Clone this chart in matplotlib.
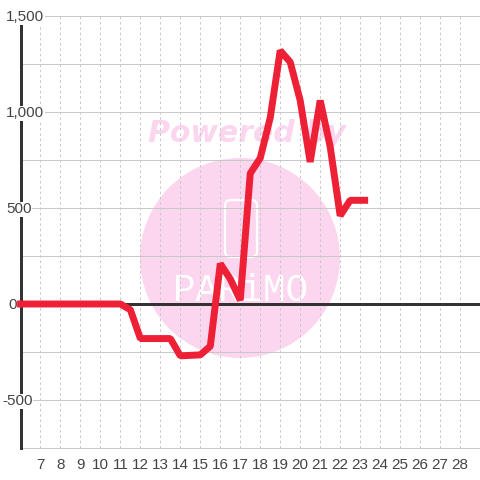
import matplotlib
matplotlib.use("Agg")
import matplotlib.pyplot as plt
from matplotlib.patches import Circle, FancyBboxPatch
from matplotlib.transforms import blended_transform_factory, ScaledTranslation

#valores
hours = [5.83, 7, 8, 9, 10, 11, 11.5, 12, 13.5, 14, 15, 15.5, 16, 16.5, 17, 17.5, 18, 18.5, 19, 19.5, 20, 20.5, 21, 21.5, 22, 22.5, 23.4]
values = [0, 0, 0, 0, 0, 0, -30, -180, -180, -270, -265, -220, 210, 130, 20, 680, 760, 970, 1320, 1260, 1060, 740, 1060, 820, 460, 540, 540]
x_ticks = list(range(7, 29))
y_major = [-500, 0, 500, 1000, 1500]
y_minor = [-250, 250, 750, 1250]
y_labels = ["-500", "0", "500", "1,000", "1,500"]
y_label_left = [2, 8, 6, 6, 6]  #pixel onde cada rotulo comeca

plt.rcParams['font.family'] = ['Liberation Sans', 'DejaVu Sans']

fig = plt.figure(figsize=(4.8, 4.8), dpi=100)
ax = fig.add_axes([20.5/480, 32/480, 459.5/480, 432/480])
ax.set_xlim(6, 29)
ax.set_ylim(-750, 1500)

for s in ['top', 'right']:
    ax.spines[s].set_visible(False)
ax.spines['left'].set_linewidth(2.16)
ax.spines['left'].set_color('#333333')
ax.spines['left'].set_zorder(4)
ax.spines['bottom'].set_linewidth(0.72)
ax.spines['bottom'].set_color('#c8c8c8')

ax.set_xticks(x_ticks)
ax.set_yticks(y_major)
ax.set_yticklabels([])
ax.set_yticks(y_minor, minor=True)
ax.tick_params(axis='x', length=0, labelsize=11, labelcolor='#444444', pad=7)
ax.tick_params(axis='y', which='both', length=0)

#rotulos do eixo y por cima do eixo, com fundo branco
trans = blended_transform_factory(fig.transFigure, ax.transData) + ScaledTranslation(0, -1.2/100, fig.dpi_scale_trans)
for v, lab, left in zip(y_major, y_labels, y_label_left):
    ax.text(left/480, v, lab, transform=trans, fontsize=11, color='#444444', ha='left', va='center',
            clip_on=False, zorder=4.2, bbox=dict(facecolor='white', edgecolor='none', pad=0.3))

ax.grid(axis='x', color='#c8c8c8', linestyle=(0, (2.5, 2.8)), linewidth=0.72)
ax.grid(axis='y', which='both', color='#c8c8c8', linewidth=0.72)
ax.set_axisbelow(True)

#marca d'agua
to_px = fig.transFigure
wm = Circle((240/480, 1 - 258/480), 100/480, transform=to_px, facecolor='#fcd6ee', edgecolor='none', zorder=0.2)
ax.add_patch(wm)
icon = FancyBboxPatch((225/480, 1 - 257/480), 32/480, 57/480, boxstyle='round,pad=0,rounding_size=0.012',
                      transform=to_px, facecolor='none', edgecolor='white', linewidth=1.6, zorder=0.3)
ax.add_patch(icon)
ax.text(148/480, 1 - 134/480, "Powered by", transform=to_px, color='#fcd6ee', fontsize=21.5, fontweight='bold',
        fontstyle='oblique', family='DejaVu Sans', ha='left', va='center', zorder=0.3)
ax.text(240/480, 1 - 291/480, "PARiMO", transform=to_px, color='white', fontsize=27, family='Liberation Mono',
        ha='center', va='center', zorder=0.3)

ax.axhline(0, color='#333333', linewidth=2.16, zorder=2)
ax.plot(hours, values, color='#ee2036', linewidth=5, solid_joinstyle='bevel', solid_capstyle='butt', zorder=4.5, clip_on=False)

fig.savefig("out.png", dpi=100, facecolor='white')
